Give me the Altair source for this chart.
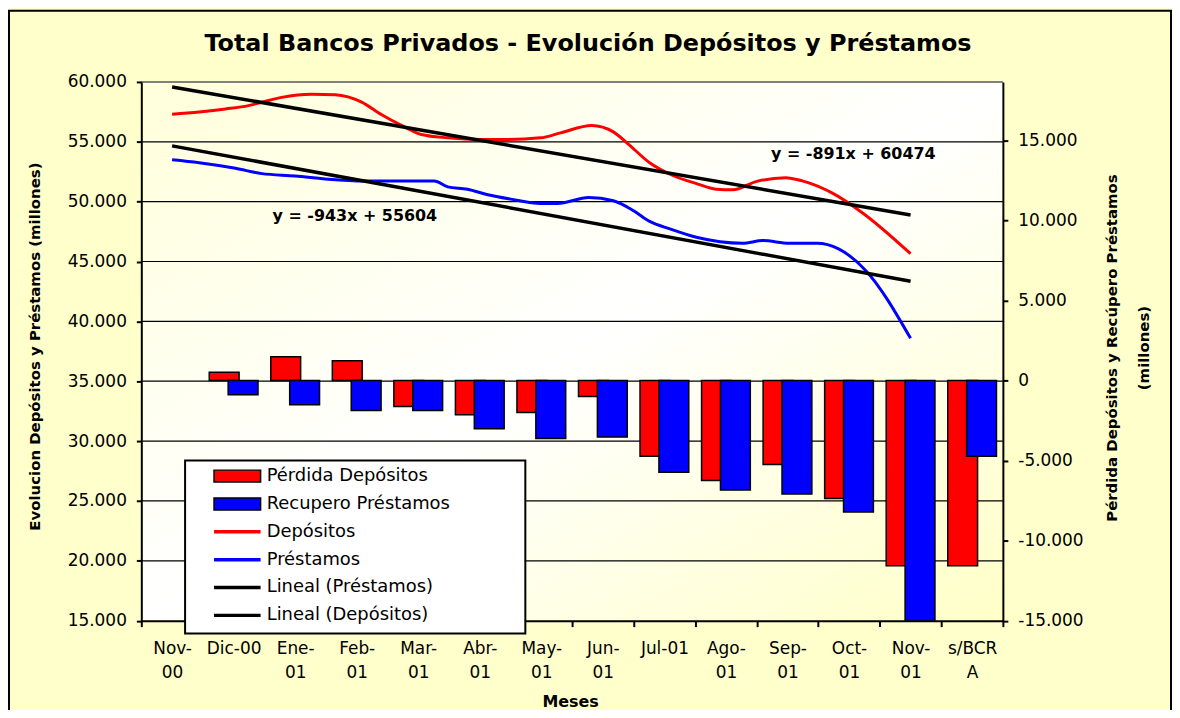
import altair as alt
import pandas as pd

# ---------------- data ----------------
categories = ["Nov-|00", "Dic-00", "Ene-|01", "Feb-|01", "Mar-|01", "Abr-|01", "May-|01",
              "Jun-|01", "Jul-01", "Ago-|01", "Sep-|01", "Oct-|01", "Nov-|01", "s/BCR|A"]
perdida_depositos = [None, 520, 1490, 1245, -1620, -2135, -1990, -1000, -4730, -6240,
                     -5245, -7360, -11570, -11570]
recupero_prestamos = [None, -890, -1510, -1865, -1865, -3005, -3625, -3520, -5720, -6840,
                      -7090, -8210, -15000, -4730]

dep_x = [1.00, 1.44, 1.87, 2.24, 2.46, 2.78, 3.27, 3.65, 4.08, 4.40, 4.72, 5.05, 5.48, 6.02,
         6.45, 6.99, 7.31, 7.82, 8.17, 8.39, 8.76, 9.09, 9.52, 9.84, 10.11, 10.49, 10.97,
         11.24, 11.73, 12.21, 13.00]
dep_y = [57300, 57490, 57740, 58020, 58300, 58710, 58980, 58935, 58320, 57275, 56385, 55610,
         55330, 55195, 55195, 55330, 55745, 56360, 55830, 54915, 53250, 52290, 51510, 51040,
         50985, 51675, 52005, 51730, 50710, 49100, 45650]

pre_x = [1.00, 1.44, 2.03, 2.46, 3.00, 3.54, 4.13, 5.26, 5.48, 5.80, 6.13, 6.50, 6.99, 7.26,
         7.77, 8.17, 8.50, 8.76, 9.09, 9.52, 10.27, 10.60, 11.03, 11.48, 11.83, 12.27, 13.00]
pre_y = [53500, 53250, 52785, 52340, 52150, 51875, 51730, 51730, 51235, 51040, 50570, 50210,
         49850, 49845, 50345, 50070, 49240, 48350, 47720, 47020, 46520, 46745, 46520, 46520,
         46055, 44255, 38580]

trend_names = ["Lineal (Préstamos)", "Lineal (Depósitos)"]
trend_slope = [-943, -891]
trend_intercept = [55604, 60474]
trend_x_range = [1, 13]

eq_text = ["y = -943x + 55604", "y = -891x + 60474"]
eq_x = [3.97, 12.07]
eq_y = [48765, 53950]

left_ticks = [15000, 20000, 25000, 30000, 35000, 40000, 45000, 50000, 55000, 60000]
right_ticks = [-15000, -10000, -5000, 0, 5000, 10000, 15000]

bar_series = ["Pérdida Depósitos", "Recupero Préstamos"]
line_series = ["Depósitos", "Préstamos", "Lineal (Préstamos)", "Lineal (Depósitos)"]

# ---------------- tables ----------------
bars_df = pd.DataFrame({
    "mes": categories * 2,
    "serie": [bar_series[0]] * len(categories) + [bar_series[1]] * len(categories),
    "valor": perdida_depositos + recupero_prestamos,
})
lines_df = pd.DataFrame({
    "serie": ["Depósitos"] * len(dep_x) + ["Préstamos"] * len(pre_x),
    "x": dep_x + pre_x,
    "y": dep_y + pre_y,
})
trend_rows = []
for n, s, b in zip(trend_names, trend_slope, trend_intercept):
    for xv in trend_x_range:
        trend_rows.append({"serie": n, "x": xv, "y": s * xv + b})
trend_df = pd.DataFrame(trend_rows)
eq_df = pd.DataFrame({"t": eq_text, "x": eq_x, "y": eq_y})
one = pd.DataFrame({"a": [0]})

# ---------------- layout constants ----------------
W, H = 866, 541.5
F = "DejaVu Sans"
LEFT = [15000, 60000]
RIGHT = [-15000, 18664]
XQ = [0.5, 14.5]
RED, BLUE = "#FF0000", "#0000FF"

xq = lambda f: alt.X(f, scale=alt.Scale(domain=XQ, nice=False, zero=False), axis=None)
yl = lambda f, axis=None: alt.Y(f, scale=alt.Scale(domain=LEFT, nice=False, zero=False), axis=axis)

num_expr = "(datum.value < 0 ? '-' : '') + replace(format(abs(datum.value), ','), ',', '.')"

# background gradient of plot area
bg = alt.Chart(one).mark_rect(
    color=alt.LinearGradient(
        gradient="linear",
        stops=[alt.GradientStop(color="#FFFFDA", offset=0),
               alt.GradientStop(color="#FFFFFF", offset=0.5),
               alt.GradientStop(color="#FFFFC8", offset=1)],
        x1=0, y1=0, x2=1, y2=1)
).encode(x=alt.value(0), x2=alt.value(W), y=alt.value(0), y2=alt.value(H - 1))

grid = alt.Chart(pd.DataFrame({"v": left_ticks[1:-1]})).mark_rule(
    color="black", strokeWidth=1.2
).encode(y=yl("v:Q"))

topline = alt.Chart(pd.DataFrame({"v": [left_ticks[-1]]})).mark_rule(
    color="#808080", strokeWidth=2
).encode(y=yl("v:Q"))

xband = lambda axis: alt.X("mes:N", sort=categories,
                           scale=alt.Scale(domain=categories, paddingInner=0, paddingOuter=0),
                           axis=axis)
yr = lambda axis: alt.Y("valor:Q", scale=alt.Scale(domain=RIGHT, nice=False, zero=False), axis=axis)

fill_enc = alt.Fill("serie:N", scale=alt.Scale(domain=bar_series, range=[RED, BLUE]),
                    legend=alt.Legend(title=None, orient="none", legendX=60, legendY=387.2,
                                      symbolType="M-3.9,-1H3.9V1H-3.9Z", symbolSize=144,
                                      symbolStrokeColor="black", symbolStrokeWidth=1.5,
                                      symbolOffset=27.5, labelOffset=20.5, labelFont=F,
                                      labelFontSize=18, labelColor="black", rowPadding=10,
                                      padding=0, labelLimit=400))

bottom_axis = alt.Axis(orient="bottom", labelExpr="split(datum.label, '|')", labelAngle=0,
                       labelLineHeight=24, labelBaseline="top", labelPadding=14,
                       labelOverlap=False, tickSize=6, tickBand="extent", tickWidth=2,
                       domainWidth=2, title="Meses", titleX=431, titleY=81,
                       titleBaseline="middle", zindex=0, labelFontSize=17, titleFontSize=16)
right_axis = alt.Axis(orient="right", values=right_ticks, labelExpr=num_expr, tickSize=5,
                      labelPadding=10, domainWidth=2, tickWidth=2,
                      title=["Pérdida Depósitos y Recúpero Préstamos", "(millones)"],
                      titleAngle=270, titleX=109, titleY=267, titleBaseline="middle",
                      titleAlign="center", titleLineHeight=32, zindex=1)

bars_red = alt.Chart(bars_df).transform_filter(
    alt.datum.serie == bar_series[0]
).mark_bar(width=30, xOffset=-9.5, stroke="black", strokeWidth=1.5, clip=True).encode(
    x=xband(bottom_axis), y=yr(right_axis), y2=alt.datum(0), fill=fill_enc)

bars_blue = alt.Chart(bars_df).transform_filter(
    alt.datum.serie == bar_series[1]
).mark_bar(width=30, xOffset=9.5, stroke="black", strokeWidth=1.5, clip=True).encode(
    x=xband(None), y=yr(None), y2=alt.datum(0), fill=fill_enc)

left_axis = alt.Axis(orient="left", values=left_ticks, labelExpr=num_expr, tickSize=5,
                     labelPadding=10, domainWidth=2, tickWidth=2,
                     title="Evolucion Depósitos y Préstamos (millones)", titleAngle=270,
                     titleX=-107, titleY=265.5, titleBaseline="middle", titleAlign="center",
                     zindex=1)

stroke_enc = alt.Stroke("serie:N", scale=alt.Scale(domain=line_series,
                                                  range=[RED, BLUE, "black", "black"]),
                        legend=alt.Legend(title=None, orient="none", legendX=60, legendY=443.2,
                                          symbolType="M-3.9,0H3.9", symbolSize=144,
                                          symbolStrokeWidth=3.5, symbolFillColor="transparent",
                                          symbolOffset=27.5, labelOffset=20.5, labelFont=F,
                                          labelFontSize=18, labelColor="black", rowPadding=10,
                                          padding=0, labelLimit=400))

lines = alt.Chart(lines_df).mark_line(strokeWidth=3, interpolate="monotone").encode(
    x=xq("x:Q"), y=yl("y:Q", left_axis), stroke=stroke_enc, detail="serie:N")

trends = alt.Chart(trend_df).mark_line(strokeWidth=3.5).encode(
    x=xq("x:Q"), y=yl("y:Q"), stroke=alt.Stroke("serie:N"), detail="serie:N")

eqs = alt.Chart(eq_df).mark_text(font=F, fontSize=16, fontWeight="bold", color="black").encode(
    x=xq("x:Q"), y=yl("y:Q"), text="t:N")

legbox = alt.Chart(one).mark_rect(fill="white", stroke="black", strokeWidth=2).encode(
    x=alt.value(44), x2=alt.value(386), y=alt.value(380.5), y2=alt.value(554.5))

frame = alt.Chart(one).mark_rect(fillOpacity=0, stroke="black", strokeWidth=2).encode(
    x=alt.value(-133), x2=alt.value(1035), y=alt.value(-71.5), y2=alt.value(640))

chart = alt.layer(bg, grid, topline, bars_red, bars_blue, lines, trends, eqs, legbox, frame
).resolve_scale(x="independent", y="independent").properties(
    width=W, height=H,
    title=alt.TitleParams(text="Total Bancos Privados - Evolución Depósitos y Préstamos",
                          font=F, fontSize=24, fontWeight="bold", color="black",
                          anchor="middle", dx=16, baseline="alphabetic", offset=-65),
    padding={"left": 134, "top": 72.5, "right": 170, "bottom": 88},
    autosize=alt.AutoSizeParams(type="none"),
    background="#FFFFCC",
).configure_view(stroke=None).configure_axis(
    labelFont=F, labelFontSize=17, labelColor="black", titleFont=F, titleFontSize=15,
    titleFontWeight="bold", titleColor="black", domainColor="black", tickColor="black",
    grid=False)

chart.save("out.html", embed_options={"renderer": "svg", "actions": False})
